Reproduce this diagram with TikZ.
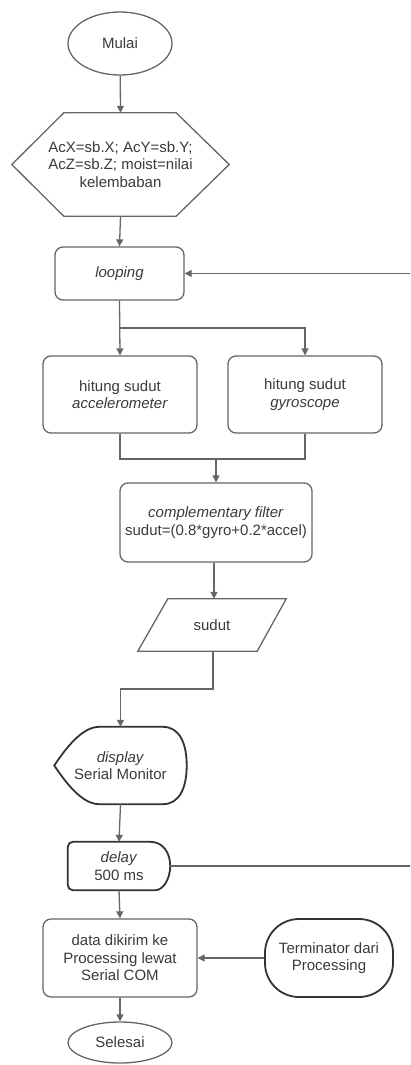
\documentclass[tikz,border=0pt]{standalone}
\usepackage{fontspec}
\setmainfont{Liberation Sans}
\usetikzlibrary{arrows.meta,calc,shapes.geometric}
\definecolor{ln}{HTML}{666666}
\definecolor{dk}{HTML}{333333}
\definecolor{tx}{HTML}{3a3a3a}
\begin{document}
\begin{tikzpicture}[x=1pt,y=-1pt,
  every node/.style={font=\fontsize{15}{17.5}\selectfont, text=tx, align=center, inner sep=0pt},
  conn/.style={draw=ln, line width=1.3pt, -{Triangle[length=7pt,width=7pt]}},
  plain/.style={draw=ln, line width=1.3pt},
  shapeline/.style={draw=ln, line width=1.3pt},
  thickline/.style={draw=dk, line width=1.8pt},
  rbox/.style={draw=ln, line width=1.3pt, rounded corners=8pt},
  ghost/.style={draw=none}]
\useasboundingbox (0,0) rectangle (410,1065);
\clip (0,0) rectangle (410,1065);

% nodes
\node[ellipse, draw=ln, line width=1.3pt, minimum width=104, minimum height=63] (mulai) at (120,43.5) {Mulai};
\node[ghost, minimum width=217, minimum height=103] (hex) at (120.5,164.5) {AcX=sb.X; AcY=sb.Y;\\AcZ=sb.Z; moist=nilai\\kelembaban};
\draw[shapeline] (hex.west) -- ($(hex.north west)+(52,0)$) -- ($(hex.north east)+(-53,0)$) -- (hex.east) -- ($(hex.south east)+(-53,0)$) -- ($(hex.south west)+(52,0)$) -- cycle;
\node[rbox, minimum width=129, minimum height=53] (loop) at (119.5,273.5) {\textit{looping}};
\node[rbox, minimum width=154, minimum height=77] (acc) at (120,394.5) {hitung sudut\\\textit{accelerometer}};
\node[rbox, minimum width=154, minimum height=77] (gyro) at (305,394.5) {hitung sudut\\\textit{gyroscope}};
\node[rbox, minimum width=192, minimum height=79] (comp) at (216,522.5) {\textit{complementary filter}\\sudut=(0.8*gyro+0.2*accel)};
\node[ghost, minimum width=148, minimum height=52] (sudut) at (212,625) {sudut};
\draw[shapeline] ($(sudut.north west)+(30,0)$) -- (sudut.north east) -- ($(sudut.south east)+(-29,0)$) -- (sudut.south west) -- cycle;
\node[ghost, minimum width=132, minimum height=77] (disp) at (120.5,765.5) {\textit{display}\\Serial Monitor};
\draw[thickline] (disp.west)
   .. controls ($(disp.west)+(12,-18)$) and ($(disp.north west)+(28,0)$) .. ($(disp.north west)+(45,0)$)
   -- ($(disp.north east)+(-24,0)$)
   .. controls ($(disp.north east)+(-7,0)$) and ($(disp.east)+(0,-22)$) .. (disp.east)
   .. controls ($(disp.east)+(0,22)$) and ($(disp.south east)+(-7,0)$) .. ($(disp.south east)+(-24,0)$)
   -- ($(disp.south west)+(45,0)$)
   .. controls ($(disp.south west)+(28,0)$) and ($(disp.west)+(12,18)$) .. (disp.west) -- cycle;
\node[ghost, minimum width=102, minimum height=48] (delay) at (119,866) {\textit{delay}\\500 ms};
\draw[thickline] ($(delay.north east)+(-20,0)$) [rounded corners=5pt] -- (delay.north west) -- (delay.south west) -- ($(delay.south east)+(-20,0)$) [sharp corners]
   .. controls ($(delay.south east)+(-7,0)$) and ($(delay.east)+(0,13)$) .. (delay.east)
   .. controls ($(delay.east)+(0,-13)$) and ($(delay.north east)+(-7,0)$) .. ($(delay.north east)+(-20,0)$) -- cycle;
\node[rbox, minimum width=154, minimum height=78] (data) at (120,958) {data dikirim ke\\Processing lewat\\Serial COM};
\node[thickline, rounded corners=34pt, minimum width=128, minimum height=78] (term) at (329,958) {Terminator dari\\Processing};
\node[ellipse, draw=ln, line width=1.3pt, minimum width=104, minimum height=41] (selesai) at (120,1042.5) {Selesai};

% junctions
\coordinate (j1) at (120,328);
\coordinate (j2) at (216,459);
\coordinate (j3) at (213,689);
\coordinate (back) at (416,866);

% connectors
\draw[conn] (mulai) -- (hex.north);
\draw[conn] (hex.south) -- (loop.north);
\draw[conn] (loop.south) -- (acc.north);
\draw[conn] (j1) -| (gyro.north);
\draw[plain] (acc.south) |- (j2) -| (gyro.south);
\draw[conn] (j2) -- (comp.north);
\draw[conn] ($(comp.south)+(-2,0)$) -- ($(comp.south |- sudut.north)+(-2,0)$);
\draw[conn] (j3 |- sudut.south) -- (j3) -| (disp.north);
\draw[conn] (disp.south) -- (delay.north);
\draw[conn] (delay.east) -- (back) |- (loop.east);
\draw[conn] (delay.south) -- (data.north);
\draw[conn] (term.west) -- (data.east);
\draw[conn] (data.south) -- (selesai.north);
\end{tikzpicture}
\end{document}
